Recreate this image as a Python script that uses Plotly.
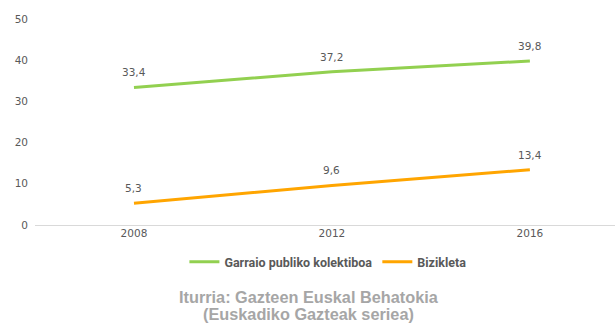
import plotly.graph_objects as go

# Data
years = ["2008", "2012", "2016"]
garraio = [33.4, 37.2, 39.8]
bizikleta = [5.3, 9.6, 13.4]
series_names = ["Garraio publiko kolektiboa", "Bizikleta"]
series_colors = ["#92D050", "#FFA500"]
y_ticks = [0, 10, 20, 30, 40, 50]
source_lines = ["Iturria: Gazteen Euskal Behatokia", "(Euskadiko Gazteak seriea)"]

label_font = dict(family="DejaVu Sans, Verdana, sans-serif", size=10.5, color="#595959")

fig = go.Figure()
annotations = []
for name, vals, color in zip(series_names, [garraio, bizikleta], series_colors):
    fig.add_trace(go.Scatter(
        x=years, y=vals, name=name, mode="lines",
        line=dict(color=color, width=3),
        hoverinfo="skip",
    ))
    # value labels above each point (category index keeps year strings off the numeric path)
    for i, v in enumerate(vals):
        annotations.append(dict(
            x=i, y=v, xref="x", yref="y",
            text=f"{v:.1f}".replace(".", ","),
            showarrow=False, yshift=15, font=label_font,
        ))

# source note, one line per annotation
for line, ypos in zip(source_lines, [-0.349, -0.434]):
    annotations.append(dict(
        x=0.472, y=ypos, xref="paper", yref="paper",
        xanchor="center", yanchor="middle",
        text=f"<b>{line}</b>", showarrow=False,
        font=dict(family="Liberation Sans, Arial, sans-serif", size=16.3, color="#A6A6A6"),
    ))

fig.update_layout(
    width=615, height=323,
    margin=dict(l=35, r=0, t=19, b=98),
    paper_bgcolor="white", plot_bgcolor="white",
    showlegend=True,
    legend=dict(
        orientation="h", x=0.505, xanchor="center", y=-0.18, yanchor="middle",
        font=dict(family="Roboto, sans-serif", size=12.5, color="#595959", weight="bold"),
        itemwidth=30,
    ),
    annotations=annotations,
    xaxis=dict(
        type="category", range=[-0.5, 2.43],
        showgrid=False, zeroline=False, showline=False, ticks="",
        tickfont=label_font,
    ),
    yaxis=dict(
        range=[0, 50], tickvals=y_ticks,
        showgrid=False, zeroline=True, zerolinecolor="#D9D9D9", zerolinewidth=1,
        showline=False, ticks="", ticklabelstandoff=6,
        tickfont=label_font,
    ),
)

fig.write_html("out.html")
